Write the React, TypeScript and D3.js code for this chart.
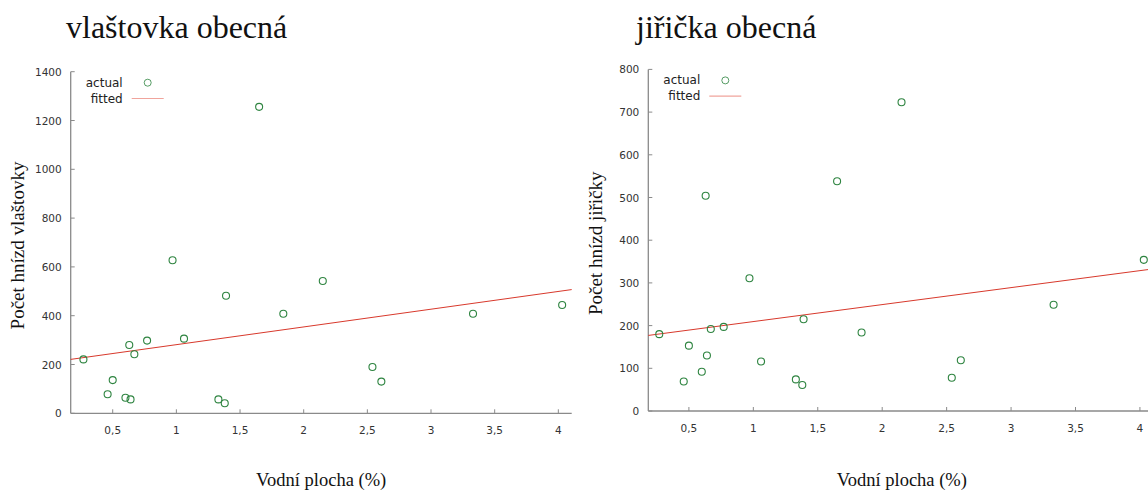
import React from "react";
import * as d3 from "d3";

// Vodní plocha (%) for each sampled area
const vodniPlocha = [0.27, 0.46, 0.5, 0.6, 0.63, 0.64, 0.67, 0.77, 0.97, 1.06, 1.33, 1.38, 1.39, 1.65, 1.84, 2.15, 2.54, 2.61, 3.33, 4.03];
// Počet hnízd vlaštovky
const hnizdaVlastovky = [221, 78, 136, 64, 280, 57, 242, 298, 627, 306, 57, 41, 482, 1256, 408, 542, 190, 130, 408, 444];
// Počet hnízd jiřičky
const hnizdaJiricky = [180, 69, 153, 92, 504, 130, 192, 197, 311, 116, 74, 61, 215, 538, 184, 723, 78, 119, 249, 354];

const xTicks = [0.5, 1, 1.5, 2, 2.5, 3, 3.5, 4];
const yTicksVlastovka = [0, 200, 400, 600, 800, 1000, 1200, 1400];
const yTicksJiricka = [0, 100, 200, 300, 400, 500, 600, 700, 800];

const titles = ["vlaštovka obecná", "jiřička obecná"];
const yLabels = ["Počet hnízd vlaštovky", "Počet hnízd jiřičky"];
const xLabel = "Vodní plocha (%)";
const legendLabels = ["actual", "fitted"];

const GREEN = "#2e8440";
const RED = "#d8392c";
const AXIS = "#8a8a8a";
const SERIF = "'Liberation Serif', 'Times New Roman', serif";
const SANS = "'DejaVu Sans', Verdana, sans-serif";

function ols(xs: number[], ys: number[]) {
  const mx = d3.mean(xs) as number;
  const my = d3.mean(ys) as number;
  const sxy = d3.sum(xs.map((x, i) => (x - mx) * (ys[i] - my)));
  const sxx = d3.sum(xs.map((x) => (x - mx) * (x - mx)));
  const b = sxy / sxx;
  return { a: my - b * mx, b };
}

const fmt = (v: number) => String(v).replace(".", ",");

type PanelProps = {
  title: string;
  yLabel: string;
  ys: number[];
  yTicks: number[];
  left: number;
  right: number;
  top: number;
  bottom: number;
  xDomain: [number, number];
  titleX: number;
  yLabelX: number;
};

function Panel(p: PanelProps) {
  const x = d3.scaleLinear().domain(p.xDomain).range([p.left, p.right]);
  const yMax = p.yTicks[p.yTicks.length - 1];
  const y = d3.scaleLinear().domain([0, yMax]).range([p.bottom, p.top]);
  const fit = ols(vodniPlocha, p.ys);
  const lineGen = d3
    .line<number>()
    .x((v) => x(v))
    .y((v) => y(fit.a + fit.b * v));
  const axisRight = Math.min(p.right, 1148);
  const midY = (p.top + p.bottom) / 2 + 3;
  const lx = p.left;
  return (
    <g>
      <text x={p.titleX} y={38} fontFamily={SERIF} fontSize={32} fill="#111">
        {p.title}
      </text>
      {/* axes */}
      <line x1={p.left} x2={p.left} y1={p.top} y2={p.bottom} stroke={AXIS} strokeWidth={1.3} />
      <line x1={p.left} x2={axisRight} y1={p.bottom} y2={p.bottom} stroke={AXIS} strokeWidth={1.3} />
      {p.yTicks.map((t) => (
        <g key={"y" + t}>
          <line x1={p.left} x2={p.left + 4} y1={y(t)} y2={y(t)} stroke={AXIS} strokeWidth={1} />
          <text x={p.left - 9} y={y(t) + 4} textAnchor="end" fontFamily={SANS} fontSize={10.5} fill="#333">
            {t}
          </text>
        </g>
      ))}
      {xTicks.map((t) => (
        <g key={"x" + t}>
          <line x1={x(t)} x2={x(t)} y1={p.bottom} y2={p.bottom - 4} stroke={AXIS} strokeWidth={1} />
          <text x={x(t)} y={p.bottom + 21} textAnchor="middle" fontFamily={SANS} fontSize={10.5} fill="#333">
            {fmt(t)}
          </text>
        </g>
      ))}
      {/* fitted line */}
      <path d={lineGen([p.xDomain[0], p.xDomain[1]]) || ""} fill="none" stroke={RED} strokeWidth={1} />
      {/* points */}
      {vodniPlocha.map((v, i) => (
        <circle key={i} cx={x(v)} cy={y(p.ys[i])} r={3.5} fill="none" stroke={GREEN} strokeWidth={1.1} />
      ))}
      {/* legend */}
      <text x={lx + 52} y={p.top + 15} textAnchor="end" fontFamily={SANS} fontSize={12} fill="#222">
        {legendLabels[0]}
      </text>
      <circle cx={lx + 77} cy={p.top + 11} r={3.5} fill="none" stroke={GREEN} strokeWidth={1} opacity={0.8} />
      <text x={lx + 52} y={p.top + 31} textAnchor="end" fontFamily={SANS} fontSize={12} fill="#222">
        {legendLabels[1]}
      </text>
      <line x1={lx + 61} x2={lx + 93} y1={p.top + 26.8} y2={p.top + 26.8} stroke="#f0a49c" strokeWidth={1.2} />
      {/* axis titles */}
      <text
        transform={`translate(${p.yLabelX},${midY}) rotate(-90)`}
        textAnchor="middle"
        fontFamily={SERIF}
        fontSize={19}
        fill="#111"
      >
        {p.yLabel}
      </text>
      <text x={(p.left + p.right) / 2} y={486} textAnchor="middle" fontFamily={SERIF} fontSize={18.5} fill="#111">
        {xLabel}
      </text>
    </g>
  );
}

export default function App() {
  return (
    <svg
      width={1148}
      height={491}
      style={{ position: "absolute", left: 0, top: 0, background: "#fff", display: "block" }}
    >
      <rect width={1148} height={491} fill="#fff" />
      <Panel
        title={titles[0]}
        yLabel={yLabels[0]}
        ys={hnizdaVlastovky}
        yTicks={yTicksVlastovka}
        left={70.7}
        right={571.7}
        top={71.7}
        bottom={413.3}
        xDomain={[0.17, 4.105]}
        titleX={66}
        yLabelX={24}
      />
      <Panel
        title={titles[1]}
        yLabel={yLabels[1]}
        ys={hnizdaJiricky}
        yTicks={yTicksJiricka}
        left={648.3}
        right={1155.4}
        top={69.4}
        bottom={411}
        xDomain={[0.185, 4.12]}
        titleX={636}
        yLabelX={602}
      />
    </svg>
  );
}
